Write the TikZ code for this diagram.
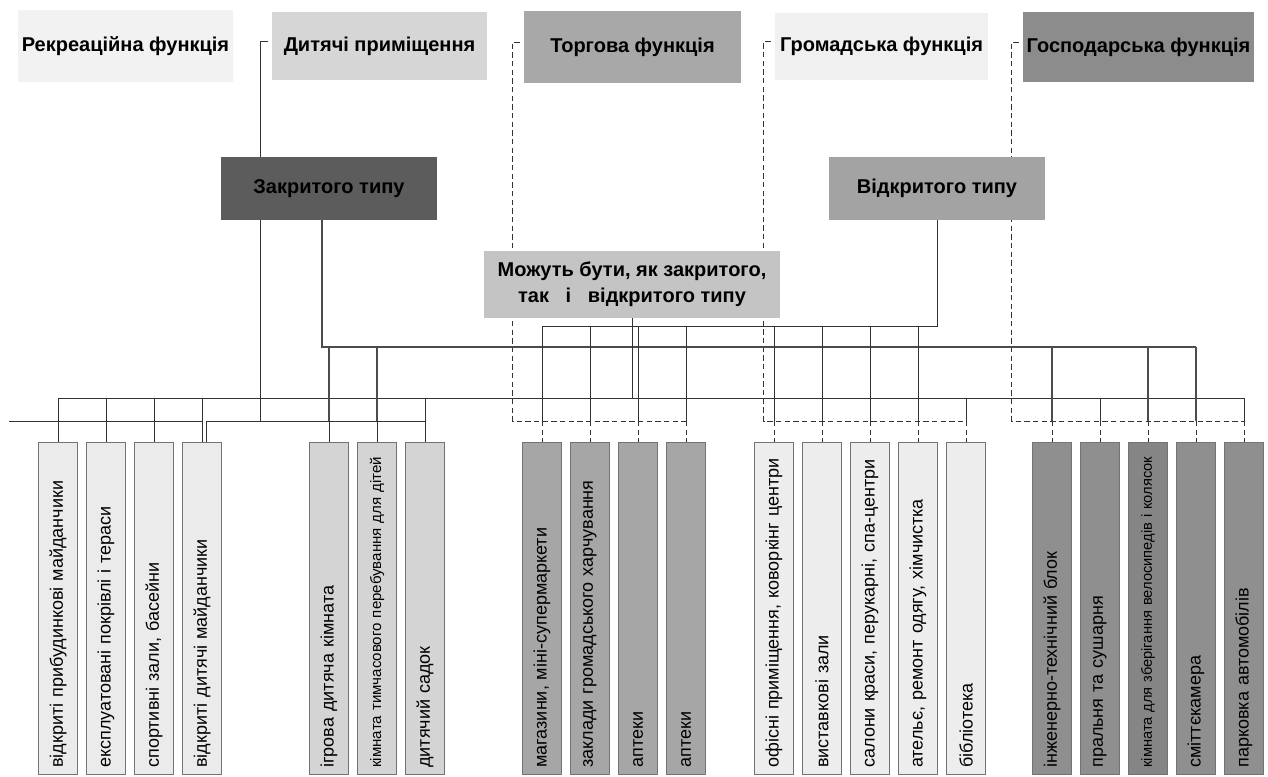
\documentclass[tikz,border=0pt]{standalone}
\usepackage{fontspec}
\setmainfont{Liberation Sans}
\usetikzlibrary{calc,backgrounds}

\tikzset{
  headbox/.style={inner sep=0pt, align=center,
    font=\fontsize{15}{19.5}\selectfont\bfseries},
  itembox/.style={draw=black!55, line width=0.5pt, fill=#1, rotate=90, anchor=east,
    minimum width=249pt, minimum height=29.25pt, inner xsep=5pt, inner ysep=0pt,
    text width=239pt, align=left, font=\fontsize{13.5}{16}\selectfont},
  smalltext/.style={font=\fontsize{11.3}{13}\selectfont},
  fline/.style={draw=black!80, line width=0.75pt},
  dline/.style={fline, dash pattern=on 4pt off 2.5pt},
  cline/.style={draw=black!70, line width=2.2pt},
}

\begin{document}
\begin{tikzpicture}[x=0.75pt, y=-0.75pt]
  \useasboundingbox (0,0) rectangle (1268,776);
  % bus levels
  \coordinate (open) at (0,326);
  \coordinate (clos) at (0,347);
  \coordinate (both) at (0,398);
  \coordinate (fun) at (0,421);
  \coordinate (rekL) at (9,421);

  % functions
  \node[headbox, fill=black!5, minimum width=161.25pt, minimum height=54pt] (rek) at (125.5,46) {Рекреаційна функція};
  \node[headbox, fill=black!16, minimum width=161.25pt, minimum height=51pt] (dyt) at (379.5,46) {Дитячі приміщення};
  \node[headbox, fill=black!34, minimum width=162.75pt, minimum height=54pt] (tor) at (632.5,47) {Торгова функція};
  \node[headbox, fill=black!6, minimum width=159.75pt, minimum height=50.25pt] (grm) at (881.5,46.5) {Громадська функція};
  \node[headbox, fill=black!45, minimum width=173.25pt, minimum height=52.5pt] (gos) at (1138.5,47) {Господарська функція};

  % types
  \node[headbox, fill=black!64, minimum width=162pt, minimum height=47.25pt] (zak) at (329,188.5) {Закритого типу};
  \node[headbox, fill=black!36, minimum width=162pt, minimum height=47.25pt] (vid) at (937,188.5) {Відкритого типу};
  \node[headbox, fill=black!23, minimum width=222pt, minimum height=50.25pt] (mozh) at (632,284.5) {Можуть бути, як закритого,\\так\ \ \ і\ \ \ відкритого типу};

  % rooms
  \node[itembox=black!8] (1) at (58,442) {відкриті прибудинкові майданчики};
  \node[itembox=black!8] (2) at (106,442) {експлуатовані покрівлі і тераси};
  \node[itembox=black!8] (3) at (154,442) {спортивні зали, басейни};
  \node[itembox=black!8] (4) at (202,442) {відкриті дитячі майданчики};
  \node[itembox=black!17] (5) at (329,442) {ігрова дитяча кімната};
  \node[itembox=black!17, smalltext] (6) at (377,442) {кімната тимчасового перебування для дітей};
  \node[itembox=black!17] (7) at (425,442) {дитячий садок};
  \node[itembox=black!35] (8) at (542,442) {магазини, міні-супермаркети};
  \node[itembox=black!35] (9) at (590,442) {заклади громадського харчування};
  \node[itembox=black!35] (10) at (638,442) {аптеки};
  \node[itembox=black!35] (11) at (686,442) {аптеки};
  \node[itembox=black!7] (12) at (774,442) {офісні приміщення, коворкінг центри};
  \node[itembox=black!7] (13) at (822,442) {виставкові зали};
  \node[itembox=black!7] (14) at (870,442) {салони краси, перукарні, спа-центри};
  \node[itembox=black!7] (15) at (918,442) {ательє, ремонт одягу, хімчистка};
  \node[itembox=black!7] (16) at (966,442) {бібліотека};
  \node[itembox=black!44] (17) at (1052,442) {інженерно-технічний блок};
  \node[itembox=black!44] (18) at (1100,442) {пральня та сушарня};
  \node[itembox=black!48, font=\fontsize{11}{13}\selectfont] (19) at (1148,442) {кімната для зберігання велосипедів і колясок};
  \node[itembox=black!44] (20) at (1196,442) {сміттєкамера};
  \node[itembox=black!44] (21) at (1244,442) {парковка автомобілів};

  \begin{scope}[on background layer]
    % function lines
    \draw[fline] (rekL) -- (4.east |- fun);
    \draw[fline] ($(dyt.west)+(-4,-5)$) -- ++(-7,0) |- (7.east |- fun);
    \draw[fline] ($(4.east)+(4,0)$) |- (7.east |- fun);
    \draw[dline] ($(tor.west)+(-4,-5)$) -- ++(-7,0) |- (11.east |- fun);
    \draw[dline] ($(grm.west)+(-4,-5)$) -- ++(-7,0) |- (16.east |- fun);
    \draw[dline] ($(gos.west)+(-4,-5)$) -- ++(-7,0) |- (21.east |- fun);
    % type lines
    \draw[cline] ($(zak.south)+(-7,0)$) |- (20.east |- clos);
    \draw[fline] (vid.south) |- (8.east |- open);
    \draw[fline] (mozh.south) -- (mozh.south |- both);
    \draw[fline] (1.east |- both) -- (21.east |- both);
    % drops
    \draw[fline] (1.east |- both) -- (1.east);
    \draw[fline] (2.east |- both) -- (2.east);
    \draw[fline] (3.east |- both) -- (3.east);
    \draw[fline] (4.east |- both) -- (4.east);
    \draw[cline] (5.east |- clos) -- (5.east |- fun);
    \draw[fline] (5.east |- fun) -- (5.east);
    \draw[cline] (6.east |- clos) -- (6.east |- fun);
    \draw[fline] (6.east |- fun) -- (6.east);
    \draw[fline] (7.east |- both) -- (7.east);
    \draw[fline] (8.east |- open) -- (8.east |- fun);
    \draw[dline] (8.east |- fun) -- (8.east);
    \draw[fline] (9.east |- open) -- (9.east |- fun);
    \draw[dline] (9.east |- fun) -- (9.east);
    \draw[fline] (10.east |- open) -- (10.east |- fun);
    \draw[dline] (10.east |- fun) -- (10.east);
    \draw[fline] (11.east |- open) -- (11.east |- fun);
    \draw[dline] (11.east |- fun) -- (11.east);
    \draw[fline] (12.east |- open) -- (12.east |- fun);
    \draw[dline] (12.east |- fun) -- (12.east);
    \draw[fline] (13.east |- open) -- (13.east |- fun);
    \draw[dline] (13.east |- fun) -- (13.east);
    \draw[fline] (14.east |- open) -- (14.east |- fun);
    \draw[dline] (14.east |- fun) -- (14.east);
    \draw[fline] (15.east |- open) -- (15.east |- fun);
    \draw[dline] (15.east |- fun) -- (15.east);
    \draw[fline] (16.east |- both) -- (16.east |- fun);
    \draw[dline] (16.east |- fun) -- (16.east);
    \draw[cline] (17.east |- clos) -- (17.east |- fun);
    \draw[dline] (17.east |- fun) -- (17.east);
    \draw[fline] (18.east |- both) -- (18.east |- fun);
    \draw[dline] (18.east |- fun) -- (18.east);
    \draw[cline] (19.east |- clos) -- (19.east |- fun);
    \draw[dline] (19.east |- fun) -- (19.east);
    \draw[cline] (20.east |- clos) -- (20.east |- fun);
    \draw[dline] (20.east |- fun) -- (20.east);
    \draw[fline] (21.east |- both) -- (21.east |- fun);
    \draw[dline] (21.east |- fun) -- (21.east);
  \end{scope}
\end{tikzpicture}
\end{document}
